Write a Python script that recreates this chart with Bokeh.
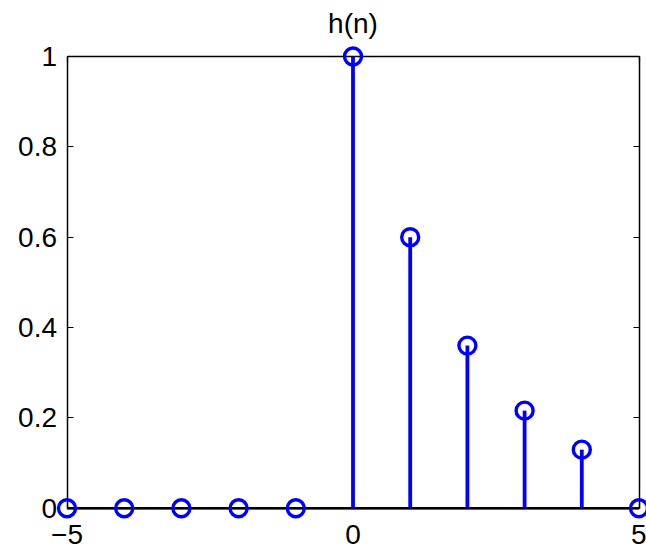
from bokeh.plotting import figure
from bokeh.models import Range1d, LinearAxis, FixedTicker, Label
from bokeh.embed import file_html
from bokeh.resources import INLINE

# data
n = [-5, -4, -3, -2, -1, 0, 1, 2, 3, 4, 5]
h = [0, 0, 0, 0, 0, 1, 0.6, 0.36, 0.216, 0.1296, 0]
x_ticks = [-5, 0, 5]
y_ticks = [0, 0.2, 0.4, 0.6, 0.8, 1]
title_text = "h(n)"

BLUE = "#0000ff"
FONT = "Liberation Sans"

W, H = 646, 552
# pixel positions of the data box inside the canvas
bx0, bx1 = 66.5, 638.5
by1, by0 = 56.0, 507.7
xmin, xmax = -5, 5
ymin, ymax = 0, 1
sx = (bx1 - bx0) / (xmax - xmin)
sy = (by0 - by1) / (ymax - ymin)
x_range = Range1d(xmin - bx0 / sx, xmax + (W - bx1) / sx)
y_range = Range1d(ymin - (H - by0) / sy, ymax + by1 / sy)

p = figure(width=W, height=H, x_range=x_range, y_range=y_range,
           output_backend="svg", toolbar_location=None,
           x_axis_location=None, y_axis_location=None, min_border=0)
p.outline_line_color = None
p.grid.visible = False
p.background_fill_color = "white"


def make_axis(ticks, loc, bounds, show_labels, standoff):
    ax = LinearAxis(ticker=FixedTicker(ticks=ticks), fixed_location=loc, bounds=bounds)
    ax.level = "underlay"
    ax.axis_line_color = "black"
    ax.axis_line_width = 1.5
    ax.major_tick_line_color = "black"
    ax.major_tick_line_width = 1.2
    ax.major_tick_in = 6
    ax.major_tick_out = 0
    ax.minor_tick_line_color = None
    ax.major_label_text_font = FONT
    ax.major_label_text_font_size = "28px"
    ax.major_label_text_color = "black" if show_labels else None
    ax.major_label_standoff = standoff
    return ax


left = make_axis(y_ticks, xmin, (ymin, ymax), True, 10)
right = make_axis(y_ticks, xmax, (ymin, ymax), False, 10)
below = make_axis(x_ticks, ymin, (xmin, xmax), True, 17)
above = make_axis(x_ticks, ymax, (xmin, xmax), False, 10)
below.major_label_overrides = {t: (str(t).replace("-", "\u2212")) for t in x_ticks}
left.major_label_overrides = {0: "0", 1: "1"}
p.add_layout(left, "left")
p.add_layout(right, "right")
p.add_layout(below, "below")
p.add_layout(above, "above")

# baseline
p.line(x=[n[0], n[-1]], y=[0, 0], line_color="black", line_width=2.5)
# stems
p.segment(x0=n, y0=[0] * len(n), x1=n, y1=h, line_color=BLUE, line_width=3.8)
# markers
p.scatter(x=n, y=h, marker="circle", size=17, fill_color=None,
          line_color=BLUE, line_width=3.4)

p.add_layout(Label(x=0, y=ymax, text=title_text, text_align="center",
                   text_baseline="alphabetic", y_offset=33,
                   text_font=FONT, text_font_size="28px", text_color="black"))

open("out.html", "w").write(file_html(p, INLINE))
